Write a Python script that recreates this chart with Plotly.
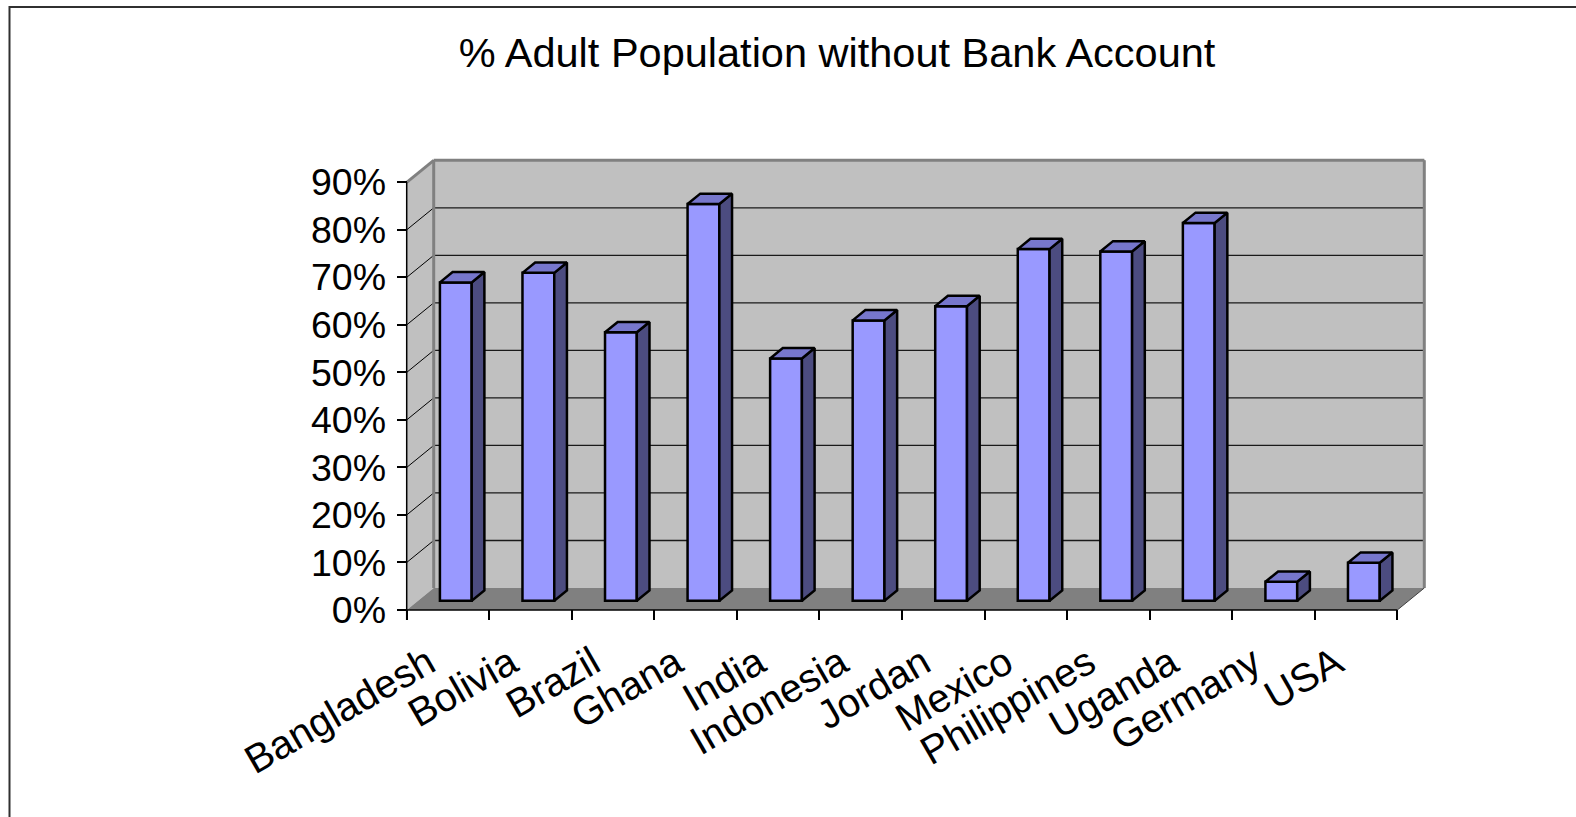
import plotly.graph_objects as go

# ---- data -------------------------------------------------------------
countries = ["Bangladesh", "Bolivia", "Brazil", "Ghana", "India", "Indonesia",
             "Jordan", "Mexico", "Philippines", "Uganda", "Germany", "USA"]
unbanked_pct = [67, 69, 56.5, 83.5, 51, 59, 62, 74, 73.5, 79.5, 4, 8]
y_ticks = [0, 10, 20, 30, 40, 50, 60, 70, 80, 90]
y_tick_labels = [f"{v}%" for v in y_ticks]
chart_title = "% Adult Population without Bank Account"

# ---- geometry (pixels) ------------------------------------------------
W, H = 1576, 817
FRONT_X0 = 406.7          # front-left-bottom corner of the box
FRONT_Y0 = 610.0
PX_PER_CAT = 82.55
PX_PER_PCT = 4.752
DEPTH_PX_X, DEPTH_PX_Y = 27.0, 22.0

L, R, T, B = 397, 146, 150, 197
x_range = [(L - FRONT_X0) / PX_PER_CAT, (W - R - FRONT_X0) / PX_PER_CAT]
y_range = [(FRONT_Y0 - (H - B)) / PX_PER_PCT, (FRONT_Y0 - T) / PX_PER_PCT]

DX = DEPTH_PX_X / PX_PER_CAT      # wall depth in axis units
DY = DEPTH_PX_Y / PX_PER_PCT
N = len(countries)
Y_TOP = y_ticks[-1]

# bar block inside its category slot (3-D x offset, width, depth band)
BX0, BW = 0.265, 0.385
Z0, Z1 = 0.42, 0.89

FRONT = "#9999ff"
TOP = "#7777cc"
SIDE = "#4c4c80"
WALL = "#c0c0c0"
FLOOR = "#808080"
EDGE = "#808080"
FONT = "Liberation Sans, Arial, sans-serif"


def proj(x, y, z):
    return x + z * DX, y + z * DY


fig = go.Figure()

# front faces of the columns
fig.add_trace(go.Bar(
    x=[i + BX0 + Z0 * DX + BW / 2 for i in range(N)],
    y=unbanked_pct,
    base=Z0 * DY,
    width=BW,
    marker=dict(color=FRONT, line=dict(color="black", width=2.5)),
    hoverinfo="skip",
    showlegend=False,
))

# top and side faces
top_x, top_y, side_x, side_y = [], [], [], []
for i, v in enumerate(unbanked_pct):
    x0, x1 = i + BX0, i + BX0 + BW
    pts = [proj(x0, v, Z0), proj(x1, v, Z0), proj(x1, v, Z1), proj(x0, v, Z1), proj(x0, v, Z0)]
    top_x += [p[0] for p in pts] + [None]
    top_y += [p[1] for p in pts] + [None]
    pts = [proj(x1, 0, Z0), proj(x1, 0, Z1), proj(x1, v, Z1), proj(x1, v, Z0), proj(x1, 0, Z0)]
    side_x += [p[0] for p in pts] + [None]
    side_y += [p[1] for p in pts] + [None]

for xs, ys, col in [(side_x, side_y, SIDE), (top_x, top_y, TOP)]:
    fig.add_trace(go.Scatter(
        x=xs, y=ys, mode="lines", fill="toself", fillcolor=col,
        line=dict(color="black", width=2.5), hoverinfo="skip", showlegend=False,
    ))

# ---- walls, floor and grid -------------------------------------------
shapes = []


def poly(pts, fill, line_color=None, width=0):
    path = "M " + " L ".join(f"{x},{y}" for x, y in pts) + " Z"
    shapes.append(dict(type="path", path=path, xref="x", yref="y", layer="below",
                       fillcolor=fill, line=dict(color=line_color or fill, width=width)))


def seg(p, q, color, width):
    shapes.append(dict(type="line", x0=p[0], y0=p[1], x1=q[0], y1=q[1],
                       xref="x", yref="y", layer="below",
                       line=dict(color=color, width=width)))


# back wall
poly([(DX, DY), (N + DX, DY), (N + DX, Y_TOP + DY), (DX, Y_TOP + DY)], WALL)
# side wall
poly([(0, 0), (DX, DY), (DX, Y_TOP + DY), (0, Y_TOP)], WALL)
# floor
poly([(0, 0), (N, 0), (N + DX, DY), (DX, DY)], FLOOR)

# gridlines on the back wall and across the side wall
for v in y_ticks[1:]:
    seg((DX, v + DY), (N + DX, v + DY), "#1a1a1a", 1.3)
    seg((0, v), (DX, v + DY), "black", 1)

# wall edges
seg((DX, DY), (DX, Y_TOP + DY), EDGE, 3)
seg((DX, Y_TOP + DY), (N + DX, Y_TOP + DY), EDGE, 3)
seg((N + DX, DY), (N + DX, Y_TOP + DY), EDGE, 3)
seg((0, Y_TOP), (DX, Y_TOP + DY), EDGE, 3)
seg((N, 0), (N + DX, DY), "#404040", 1)

# front axis lines
seg((0, y_range[0]), (0, Y_TOP), "black", 1.5)
seg((0, 0), (N, 0), "black", 1.5)

# outer chart frame
pw = W - L - R
ph = H - T - B
fx0 = (9.5 - L) / pw
fy1 = 1 + (T - 7) / ph
shapes.append(dict(type="rect", xref="paper", yref="paper",
                   x0=fx0, x1=fx0 + 2 * W / pw, y0=fy1 - 2 * H / ph, y1=fy1,
                   line=dict(color="#303030", width=2), fillcolor="rgba(0,0,0,0)",
                   layer="below"))

fig.update_layout(
    width=W, height=H,
    margin=dict(l=L, r=R, t=T, b=B, autoexpand=False),
    paper_bgcolor="white", plot_bgcolor="white",
    shapes=shapes,
    showlegend=False,
    title=dict(text=chart_title, font=dict(family=FONT, size=41.5, color="black"),
               xref="container", yref="container", x=837 / W, y=1 - 52 / H,
               xanchor="center", yanchor="middle"),
    xaxis=dict(
        range=x_range, showgrid=False, zeroline=False, showline=False,
        tickmode="array", tickvals=[i + 0.5 for i in range(N)], ticktext=countries,
        tickangle=-30, ticks="",
        ticklabelshift=-20, ticklabelstandoff=11,
        tickfont=dict(family=FONT, size=40, color="black"),
        minor=dict(tick0=0, dtick=1, ticks="inside", ticklen=10,
                   tickcolor="black", tickwidth=1.5, showgrid=False),
        fixedrange=True,
    ),
    yaxis=dict(
        range=y_range, showgrid=False, zeroline=False, showline=False,
        tickmode="array", tickvals=y_ticks, ticktext=y_tick_labels,
        ticks="inside", ticklen=10, tickcolor="black", tickwidth=1.5,
        ticklabelstandoff=10,
        tickfont=dict(family=FONT, size=37.5, color="black"),
        fixedrange=True,
    ),
)

fig.write_html("out.html")
